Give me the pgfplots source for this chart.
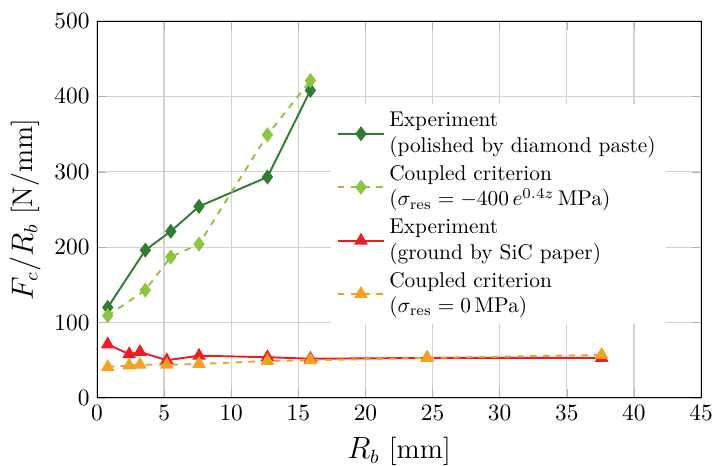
\documentclass[border=0pt]{standalone}
\usepackage{pgfplots}
\pgfplotsset{compat=1.18}
\definecolor{dgreen}{RGB}{46,125,50}
\definecolor{lgreen}{RGB}{140,198,63}
\definecolor{cred}{RGB}{237,28,36}
\definecolor{corange}{RGB}{247,160,30}
\begin{document}
\begin{tikzpicture}
\begin{axis}[
  width=283pt, height=176.6pt, scale only axis,
  xmin=0, xmax=45, ymin=0, ymax=500,
  xtick={0,5,...,45}, ytick={0,100,...,500},
  grid=major, major grid style={gray!35, line width=0.6pt},
  tick style={gray!60},
  tick label style={font=\fontsize{11}{13}\selectfont},
  label style={font=\fontsize{13.3}{16}\selectfont},
  xlabel={$R_b$ [mm]}, ylabel={$F_c/R_b$ [N/mm]},
  xlabel style={at={(axis description cs:0.5,-0.143)}, anchor=center},
  ylabel style={at={(axis description cs:-0.119,0.5)}, anchor=center},
  legend style={at={(0.386,0.782)}, anchor=north west, draw=none, fill=white,
    nodes={align=left}, cells={anchor=west}, row sep=0.6pt},
  legend cell align=left,
  legend image code/.code={\draw[mark repeat=2,mark phase=2] plot coordinates {(0cm,0cm) (0.38cm,0cm) (0.76cm,0cm)};},
  every axis plot/.append style={line width=0.9pt},
]
\addplot[dgreen, mark=diamond*, mark size=2.8pt] coordinates {
 (0.8,120) (3.6,196) (5.5,221) (7.6,254) (12.7,293) (15.9,408)};
\addlegendentry{Experiment\\(polished by diamond paste)}
\addplot[lgreen, dashed, mark=diamond*, mark size=2.8pt, mark options={solid}] coordinates {
 (0.8,109) (3.6,143) (5.5,187) (7.6,204) (12.7,349) (15.9,421)};
\addlegendentry{Coupled criterion\\($\sigma_\mathrm{res}=-400\,e^{0.4z}\,\mathrm{MPa}$)}
\addplot[cred, mark=triangle*, mark size=2.8pt] coordinates {
 (0.8,71) (2.4,58) (3.2,61) (5.2,50) (7.6,56) (12.7,54) (15.9,52) (24.6,53) (37.6,53)};
\addlegendentry{Experiment\\(ground by SiC paper)}
\addplot[corange, dashed, mark=triangle*, mark size=2.8pt, mark options={solid}] coordinates {
 (0.8,41) (2.4,43) (3.2,44) (5.2,44) (7.6,45) (12.7,49) (15.9,50) (24.6,53) (37.6,57)};
\addlegendentry{Coupled criterion\\($\sigma_\mathrm{res}=0\,\mathrm{MPa}$)}
\end{axis}
\pgfresetboundingbox
\useasboundingbox ([xshift=-45.45pt,yshift=-31.87pt]current axis.south west) rectangle ([xshift=5.62pt,yshift=9.84pt]current axis.north east);
\end{tikzpicture}
\end{document}
